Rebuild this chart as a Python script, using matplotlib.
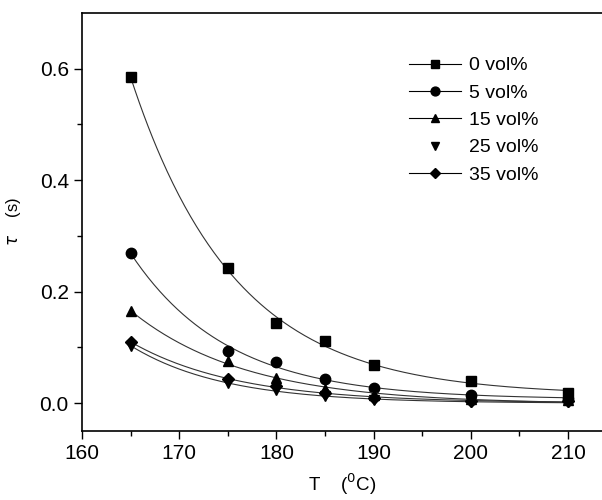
import numpy as np
import matplotlib
matplotlib.use("Agg")
import matplotlib.pyplot as plt
from matplotlib.lines import Line2D

plt.rcParams['font.family'] = ['Liberation Sans', 'DejaVu Sans']

T = [165, 175, 180, 185, 190, 200, 210]
labels = ["0 vol%", "5 vol%", "15 vol%", "25 vol%", "35 vol%"]
tau_0 = [0.585, 0.242, 0.143, 0.112, 0.068, 0.040, 0.018]
tau_5 = [0.270, 0.094, 0.074, 0.043, 0.028, 0.014, 0.008]
tau_15 = [0.165, 0.075, 0.045, 0.025, 0.015, 0.007, 0.005]
tau_25 = [0.103, 0.036, 0.023, 0.012, 0.006, 0.002, 0.002]
tau_35 = [0.110, 0.043, 0.030, 0.018, 0.010, 0.004, 0.003]
series = [tau_0, tau_5, tau_15, tau_25, tau_35]
markers = ['s', 'o', '^', 'v', 'D']
msizes = [7, 7.5, 7.5, 7.5, 6]

def expfit(x, y):
    x = np.asarray(x, float); y = np.asarray(y, float)
    best = None
    for b in np.linspace(0.01, 0.5, 500):
        e = np.exp(-b * (x - x[0]))
        M = np.vstack([e, np.ones_like(e)]).T
        coef, *_ = np.linalg.lstsq(M, y, rcond=None)
        r = np.sum((M @ coef - y) ** 2)
        if best is None or r < best[0]:
            best = (r, b, coef)
    _, b, coef = best
    return lambda xx: coef[0] * np.exp(-b * (xx - x[0])) + coef[1]

fig = plt.figure(figsize=(6.02, 5.00), dpi=100)
ax = fig.add_axes([82/602, 1-431/500, 1-82/602, (431-13)/500])

xs = np.linspace(165, 210, 300)
for ys, m, ms in zip(series, markers, msizes):
    f = expfit(T, ys)
    ax.plot(xs, f(xs), color='#333333', lw=0.8)
    ax.plot(T, ys, linestyle='none', marker=m, color='black', markersize=ms)

handles = []
for i, (m, ms) in enumerate(zip(markers, msizes)):
    ls = 'none' if i == 3 else '-'
    handles.append(Line2D([], [], color='black', lw=0.8, linestyle=ls,
                          marker=m, markersize=ms * 0.85, markerfacecolor='black'))
ax.legend(handles, labels, loc='upper left', bbox_to_anchor=(0.595, 0.937),
          frameon=False, fontsize=14, handlelength=2.7, labelspacing=0.5,
          handletextpad=0.4)

ax.set_xlim(160, 213.5)
ax.set_ylim(-0.05, 0.70)
ax.set_xticks([160, 170, 180, 190, 200, 210])
ax.set_xticks(np.arange(165, 215, 10), minor=True)
ax.set_yticks([0.0, 0.2, 0.4, 0.6])
ax.set_yticks([0.1, 0.3, 0.5], minor=True)
ax.set_yticklabels(['0.0', '0.2', '0.4', '0.6'])
ax.tick_params(which='both', direction='out', labelsize=15, top=False, right=False)
ax.tick_params(which='major', length=6, width=1)
ax.tick_params(which='minor', length=3.5, width=1)
for s in ['left', 'bottom', 'top']:
    ax.spines[s].set_linewidth(1.2)
ax.spines['right'].set_visible(False)

ax.set_xlabel(r'T    ($^{0}$C)', fontsize=13.5, labelpad=6)
ax.set_ylabel(r'$\tau$    (s)', fontsize=12, labelpad=12)

fig.savefig('out.png', dpi=100)
